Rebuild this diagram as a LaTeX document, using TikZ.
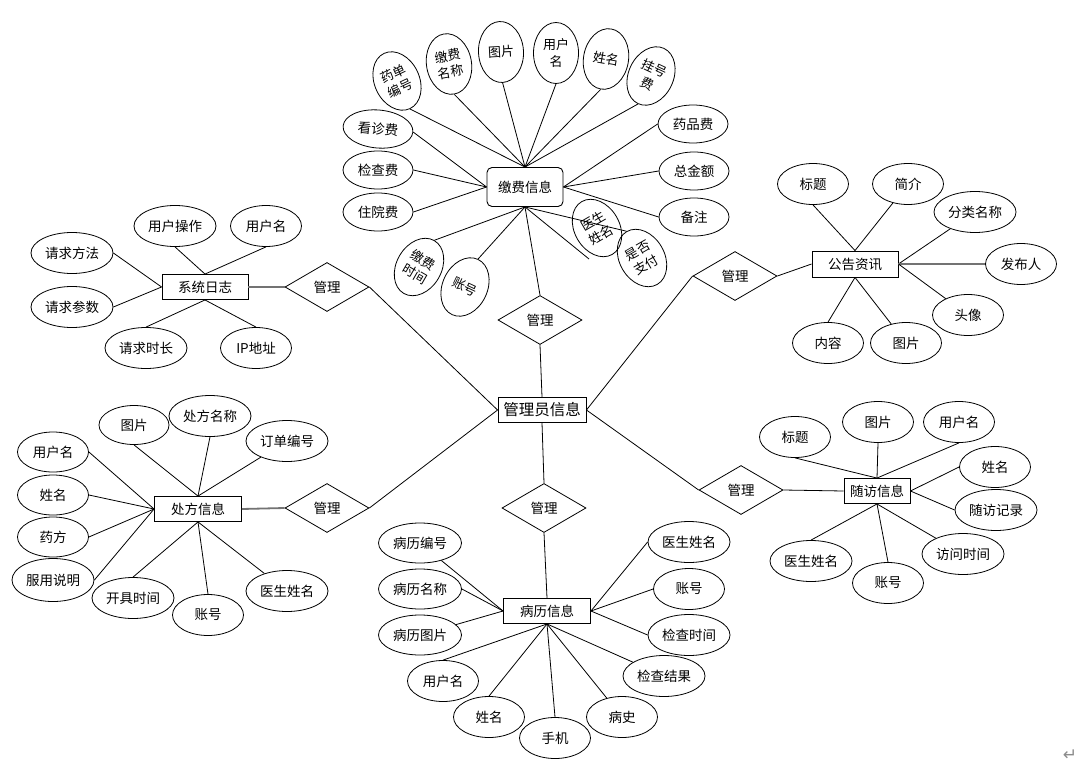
\documentclass[tikz,border=0pt]{standalone}
\usepackage{fontspec}
\setmainfont{Noto Sans CJK SC}
\newfontfamily\dejavu{DejaVu Sans}
\usetikzlibrary{shapes.geometric}
\begin{document}
\begin{tikzpicture}[x=1pt,y=-1pt,
  every node/.style={font=\fontsize{13.5}{15}\selectfont, inner sep=0pt},
  attr/.style={ellipse, draw, line width=0.8pt, minimum width=71pt, minimum height=41pt},
  attrl/.style={attr, minimum width=82pt},
  attrs/.style={attr, minimum width=70pt, minimum height=38pt},
  attrv/.style={attr, minimum width=45pt, minimum height=61pt, align=center, font=\fontsize{13}{16.5}\selectfont},
  ent/.style={rectangle, draw, line width=0.9pt, minimum width=87pt, minimum height=25pt},
  rel/.style={diamond, draw, line width=0.8pt, minimum width=84pt, minimum height=49pt, aspect=1.7},
  lk/.style={line width=0.8pt},
  lkg/.style={line width=1.8pt, black!55}]
\path[fill=white] (0,0) rectangle (1086,773);
\useasboundingbox (0,0) rectangle (1086,773);

% entities
\node[ent, minimum width=88pt, font=\fontsize{15.5}{17}\selectfont] (admin) at (542,410) {管理员信息};
\node[ent, rounded corners=5pt, minimum width=76pt, minimum height=39pt] (jf) at (525,187) {缴费信息};
\node[ent, minimum width=86pt] (log) at (205,287) {系统日志};
\node[ent] (cf) at (198,509) {处方信息};
\node[ent] (bl) at (547,611) {病历信息};
\node[ent, minimum width=86pt, minimum height=26pt] (gg) at (855,264) {公告资讯};
\node[ent, minimum width=66pt] (sf) at (877,491) {随访信息};

% relationships
\node[rel] (d1) at (540,320) {管理};
\node[rel] (d2) at (327,287) {管理};
\node[rel] (d3) at (327,508) {管理};
\node[rel] (d4) at (544,508) {管理};
\node[rel] (d5) at (735,276) {管理};
\node[rel] (d6) at (741,490) {管理};

% 缴费信息 attributes
\node[attrv, rotate=25] (j1) at (397,81) {药单\\编号};
\node[attrv, rotate=10] (j2) at (449,64) {缴费\\名称};
\node[attrv, rotate=3] (j3) at (501,52) {图片};
\node[attrv] (j4) at (556,53) {用户\\名};
\node[attrv, rotate=-10] (j5) at (606,59) {姓名};
\node[attrv, rotate=-25] (j6) at (651,76) {挂号\\费};
\node[attrs, rotate=-5] (j7) at (378,129) {看诊费};
\node[attrs] (j8) at (378,170) {检查费};
\node[attrs] (j9) at (378,212) {住院费};
\node[attrs] (j10) at (693,124) {药品费};
\node[attrs] (j11) at (694,171) {总金额};
\node[attrs] (j12) at (694,217) {备注};
\node[attrv, rotate=-30] (j13) at (419,267) {缴费\\时间};
\node[attrv, rotate=-25] (j14) at (465,287) {账号};
\node[attrv, rotate=30] (j15) at (597,228) {医生\\姓名};
\node[attrv, rotate=30] (j16) at (642,258) {是否\\支付};
\coordinate (jfree) at (589,259);

\foreach \a in {j1,j2,j3,j4,j5,j6} \draw[lk] (\a.south) -- (jf.north);
\foreach \a in {j7,j8,j9} \draw[lk] (\a.east) -- (jf.west);
\foreach \a in {j10,j11,j12} \draw[lk] (\a.west) -- (jf.east);
\foreach \a in {j13,j14,j16} \draw[lk] (\a.north) -- (jf.south);
\draw[lk] (jfree) -- (jf.south);

% 系统日志 attributes
\node[attrl] (l1) at (175,226) {用户操作};
\node[attr] (l2) at (266,226) {用户名};
\node[attrl] (l3) at (72,253) {请求方法};
\node[attrl] (l4) at (72,307) {请求参数};
\node[attrl] (l5) at (146,348) {请求时长};
\node[attr] (l6) at (256,348) {IP地址};
\draw[lk] (l1.south) -- (log.north);
\draw[lk] (l2.south) -- (log.north);
\draw[lk] (l3.east) -- (log.west);
\draw[lk] (l4.east) -- (log.west);
\draw[lk] (l5.north) -- (log.south);
\draw[lk] (l6.north) -- (log.south);

% 处方信息 attributes
\node[attr, minimum width=70pt, minimum height=39pt] (c1) at (134,425) {图片};
\node[attrl] (c2) at (210,416) {处方名称};
\node[attrl] (c3) at (287,441) {订单编号};
\node[attr, minimum height=40pt] (c4) at (53,452) {用户名};
\node[attr, minimum height=40pt] (c5) at (53,495) {姓名};
\node[attr, minimum height=40pt] (c6) at (53,537) {药方};
\node[attrl, minimum height=43pt] (c7) at (53,580) {服用说明};
\node[attrl] (c8) at (133,598) {开具时间};
\node[attr] (c9) at (208,615) {账号};
\node[attrl] (c10) at (287,591) {医生姓名};
\draw[lk] (c1.south) -- (cf.north);
\draw[lk] (c2.south) -- (cf.north);
\draw[lk] (c3) -- (cf.north);
\foreach \a in {c4,c5,c6,c7} \draw[lk] (\a.east) -- (cf.west);
\draw[lk] (c8.north) -- (cf.south);
\draw[lk] (c9.north) -- (cf.south);
\draw[lk] (c10) -- (cf.south);

% 病历信息 attributes
\node[attrl, minimum width=83pt, minimum height=40pt] (b1) at (420,543) {病历编号};
\node[attrl, minimum width=83pt, minimum height=40pt] (b2) at (420,589) {病历名称};
\node[attrl, minimum width=83pt, minimum height=40pt] (b3) at (420,635) {病历图片};
\node[attr] (b4) at (443,681) {用户名};
\node[attr] (b5) at (489,717) {姓名};
\node[attr] (b6) at (555,738) {手机};
\node[attr] (b7) at (622,717) {病史};
\node[attrl] (b8) at (664,676) {检查结果};
\node[attrl] (b9) at (689,542) {医生姓名};
\node[attr] (b10) at (689,589) {账号};
\node[attrl] (b11) at (689,635) {检查时间};
\draw[lk] (b1) -- (bl.west);
\draw[lk] (b2.east) -- (bl.west);
\draw[lk] (b3) -- (bl.west);
\foreach \a in {b4,b5,b6} \draw[lk] (\a.north) -- (bl.south);
\draw[lk] (b7) -- (bl.south);
\draw[lk] (b8) -- (bl.south);
\foreach \a in {b9,b10,b11} \draw[lk] (\a.west) -- (bl.east);

% 公告资讯 attributes
\node[attr] (g1) at (813,184) {标题};
\node[attr] (g2) at (908,184) {简介};
\node[attrl] (g3) at (975,212) {分类名称};
\node[attr] (g4) at (1021,264) {发布人};
\node[attr] (g5) at (968,315) {头像};
\node[attr] (g6) at (828,343) {内容};
\node[attr] (g7) at (906,343) {图片};
\draw[lk] (g1.south) -- (gg.north);
\draw[lk] (g2) -- (gg.north);
\draw[lk] (g3) -- (gg.east);
\draw[lkg] (g4.west) -- (gg.east);
\draw[lk] (g5) -- (gg.east);
\draw[lk] (g6.north) -- (gg.south);
\draw[lk] (g7) -- (gg.south);

% 随访信息 attributes
\node[attr] (s1) at (795,437) {标题};
\node[attr] (s2) at (878,422) {图片};
\node[attr] (s3) at (959,422) {用户名};
\node[attr] (s4) at (995,467) {姓名};
\node[attrl] (s5) at (996,510) {随访记录};
\node[attrl] (s6) at (963,554) {访问时间};
\node[attr] (s7) at (888,583) {账号};
\node[attrl] (s8) at (811,561) {医生姓名};
\foreach \a in {s1,s2,s3} \draw[lk] (\a.south) -- (sf.north);
\draw[lk] (s4.west) -- (sf.east);
\draw[lk] (s5.west) -- (sf.east);
\draw[lk] (s6) -- (sf.south);
\draw[lk] (s7.north) -- (sf.south);
\draw[lk] (s8.north) -- (sf.south);

% relationship links
\draw[lk] (d1.north) -- (jf.south);
\draw[lk] (d1.south) -- (admin.north);
\draw[lkg] (d2.west) -- (log.east);
\draw[lk] (d2.east) -- (admin.west);
\draw[lkg] (d3.west) -- (cf.east);
\draw[lk] (d3.east) -- (admin.west);
\draw[lk] (d4.north) -- (admin.south);
\draw[lk] (d4.south) -- (bl.north);
\draw[lk] (d5.west) -- (admin.east);
\draw[lk] (d5.east) -- (gg.west);
\draw[lk] (d6.west) -- (admin.east);
\draw[lk] (d6.east) -- (sf.west);

\node[font=\dejavu\fontsize{17}{17}\selectfont, text=black!45] (pm) at (1070,755) {↵};
\end{tikzpicture}
\end{document}
